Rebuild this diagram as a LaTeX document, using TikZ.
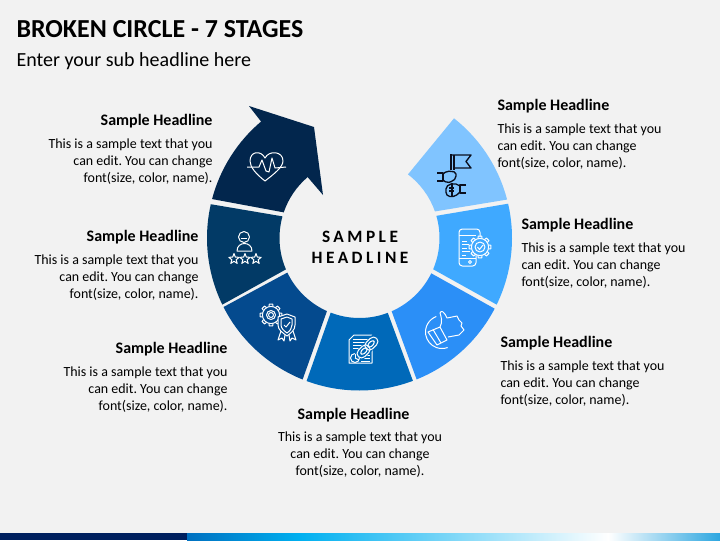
\documentclass[tikz,border=0pt]{standalone}
\usepackage{fontspec}
\usetikzlibrary{calc}
\setmainfont{Carlito}
\newfontfamily\spacedfont[LetterSpace=20]{Carlito}
\frenchspacing
\definecolor{pagegrey}{HTML}{F2F2F2}
\definecolor{stageone}{HTML}{80C4FF}
\definecolor{stagetwo}{HTML}{3FA9FF}
\definecolor{stagethree}{HTML}{2B8FF7}
\definecolor{stagefour}{HTML}{0069B9}
\definecolor{stagefive}{HTML}{044A8E}
\definecolor{stagesix}{HTML}{023A66}
\definecolor{stageseven}{HTML}{02264D}
\definecolor{bandnavy}{HTML}{00205F}
\definecolor{flagblack}{HTML}{0A0F1E}
\definecolor{bandleft}{HTML}{0070C0}
\definecolor{bandmid}{HTML}{00B0F0}
\definecolor{bandright}{HTML}{2CA6E0}
\pgfdeclarehorizontalshading{bandshade}{100bp}{color(0bp)=(bandleft);color(25bp)=(bandleft);color(35.6bp)=(bandmid);color(64.5bp)=(white);color(75bp)=(bandright);color(100bp)=(bandright)}
\tikzset{every picture/.style={line width=0.75pt}}
\tikzset{
	headline/.style={inner sep=0pt,font=\fontsize{12}{14}\selectfont\bfseries},
	bodytext/.style={inner sep=0pt,font=\fontsize{10.47}{12.75}\selectfont},
	iconline/.style={draw=white,line join=round,fill=none},
	flagline/.style={draw=flagblack,line width=1pt,line join=round,fill=none}
}
% ring piece: colour, outer start, outer end, inner start, inner end
\newcommand{\stagepiece}[5]{
	\fill [#1] ($(359.5,238)+(#2:152.5)$) arc [start angle=#2,end angle=#3,radius=152.5] -- ($(359.5,238)+(#4:80)$) arc [start angle=#4,end angle=#5,radius=80] -- cycle;
}
% gear outline: x, y, radius
\newcommand{\gearicon}[3]{
	\draw [iconline] (#1,#2) circle [radius=#3*0.78];
	\foreach \a in {0,45,...,315} {
		\draw [iconline] ($(#1,#2)+(\a-14:#3*0.78)$) -- ($(#1,#2)+(\a-9:#3)$) -- ($(#1,#2)+(\a+9:#3)$) -- ($(#1,#2)+(\a+14:#3*0.78)$);
	}
}

\begin{document}
\begin{tikzpicture}[x=0.75pt,y=0.75pt,yscale=-1,xscale=1]
		\useasboundingbox (0,0) rectangle (720,540);
		\fill [pagegrey] (0,0) rectangle (720,540);
		
		%Bottom band
		\fill [bandnavy] (0,533) rectangle (187,540);
		\shade [shading=bandshade] (187,533) rectangle (720,540);
		
		%Ring pieces
		\stagepiece{stageone}{-51.7}{-14.6}{-19.4}{-52.7}
		\stagepiece{stagetwo}{-13}{25.9}{23}{-16.1}
		\stagepiece{stagethree}{27.6}{68}{66.3}{26.2}
		\stagepiece{stagefour}{69.5}{110.3}{111.1}{69.3}
		\stagepiece{stagefive}{111.9}{153.1}{154.4}{114}
		\stagepiece{stagesix}{154.1}{192.8}{195.7}{156.9}
		%Arrow piece
		\fill [stageseven] ($(359.5,238)+(194.8:152.5)$) arc [start angle=194.8,end angle=229.8,radius=152.5] -- (249,106) -- (314,127) -- (323,195) -- ($(359.5,238)+(229.6:80)$) arc [start angle=229.6,end angle=198.7,radius=80] -- cycle;
		
		%Heart icon
		\draw [iconline] (265,181) .. controls (256,174) and (250,167) .. (250,161) .. controls (250,151) and (261,150) .. (265,158) .. controls (269,150) and (283,151) .. (283,161) .. controls (283,167) and (274,174) .. (265,181) -- cycle;
		\draw [iconline] (247,167) -- (259,167) -- (262,160) -- (266,171) -- (269,172) -- (272,158) -- (275,168) -- (286,167);
		
		%Person icon
		\draw [iconline] (244,237) circle [radius=5.5];
		\draw [iconline] (237,251) .. controls (237,241) and (252,241) .. (252,251) -- cycle;
		\draw [iconline] (241,238) -- (247,238);
		\foreach \sx in {234,245,256} {
			\begin{scope}[shift={(\sx,259)}]
				\draw [iconline] (-90:5.5) -- (-54:2.3) -- (-18:5.5) -- (18:2.3) -- (54:5.5) -- (90:2.3) -- (126:5.5) -- (162:2.3) -- (198:5.5) -- (234:2.3) -- cycle;
			\end{scope}
		}
		
		%Gear and shield icon
		\gearicon{271}{315}{11}
		\draw [iconline] (271,315) circle [radius=4.5];
		\draw [iconline] (271,315) circle [radius=2.5];
		\fill [stagefive] (287,314) -- (295,317) -- (295,325) .. controls (295,330) and (291,333) .. (287,336) .. controls (283,333) and (278,330) .. (278,325) -- (278,317) -- cycle;
		\draw [iconline] (287,314) -- (295,317) -- (295,325) .. controls (295,330) and (291,333) .. (287,336) .. controls (283,333) and (278,330) .. (278,325) -- (278,317) -- cycle;
		\draw [iconline] (287,317) -- (292,319) -- (292,325) .. controls (292,328) and (290,331) .. (287,333) .. controls (284,331) and (281,328) .. (281,325) -- (281,319) -- cycle;
		\draw [iconline] (284,325) -- (286,327) -- (290,322);
		\draw [iconline] (281,331) -- (278,340) -- (282,338) -- (284,341) -- (285,335);
		\draw [iconline] (293,331) -- (296,340) -- (292,338) -- (290,341) -- (289,335);
		
		%Document and link icon
		\draw [iconline] (354,335) -- (372,335) -- (372,363) -- (349,363) -- (349,340) -- cycle;
		\foreach \ly in {339,342,345,348} {
			\draw [iconline,line width=0.6pt] (353,\ly) -- (368,\ly);
		}
		\foreach \ly in {352,355,358,361} {
			\draw [iconline,line width=0.6pt] (361,\ly) -- (370,\ly);
		}
		\draw [iconline] (355,358) circle [radius=4.5];
		\draw [iconline] (355,358) -- (355,353.5);
		\draw [iconline] (355,358) -- (359,360);
		\begin{scope}[shift={(367.5,347.5)},rotate=-45]
			\fill [stagefour] (-13,-5.5) rectangle (13,5.5);
			\draw [iconline,rounded corners=3.5pt] (-13,-4.5) rectangle (2,4.5);
			\draw [iconline,rounded corners=3.5pt] (-2,-4.5) rectangle (13,4.5);
			\draw [iconline,rounded corners=2pt] (-9,-2) rectangle (-1,2);
			\draw [iconline,rounded corners=2pt] (1,-2) rectangle (9,2);
		\end{scope}
		
		%Thumb icon
		\draw [iconline] ($(442,332)+(-110:16.5)$) arc [start angle=-110,end angle=-190,radius=16.5] -- ($(442,332)+(-190:16.5)$) arc [start angle=170,end angle=70,radius=16.5];
		\draw [iconline] (428,332) -- (440,327) -- (447,340) -- (437,345) -- cycle;
		\draw [iconline] (433,329.5) -- (441,343);
		\draw [iconline] (440,327) .. controls (443,322) and (441,316) .. (440,313) .. controls (441,310) and (444,311) .. (447,318) -- (457,316) -- (459,320) -- (462,323) -- (461,326) -- (464,330) -- (459,335) -- (448,337);
		
		%Phone and gear icon
		\draw [iconline,rounded corners=2.5pt] (476,250) -- (476,266) -- (459,266) -- (459,229) -- (480,229) -- (480,237);
		\draw [iconline] (459,258) -- (476,258);
		\draw [iconline] (459,235) -- (476,235);
		\draw [iconline] (470,262) circle [radius=1.5];
		\foreach \ly/\lx in {241/467,244/469,248/467,251/470,255/466} {
			\draw [iconline,line width=0.6pt] (462,\ly) -- (\lx,\ly);
		}
		\fill [stagetwo] (480,247) circle [radius=9];
		\gearicon{480}{247}{11}
		\draw [iconline] (480,247) circle [radius=5];
		\draw [iconline] (477.5,247) -- (479.5,249.5) -- (483,245);
		
		%Flag and hands icon
		\draw [flagline] (451,154) -- (451,170);
		\draw [flagline] (454,155) -- (454,170);
		\draw [flagline] (451,155) -- (471,155) -- (466,161.5) -- (471,168) -- (454,168);
		\draw [flagline] (437,173) -- (443,173) -- (443,181) -- (437,181);
		\draw [flagline,rounded corners=1.5pt] (443,174) -- (447,171) -- (456,172) -- (456,178) -- (453,181) -- (447,183) -- (443,180);
		\draw [flagline] (466,185) -- (460,185) -- (460,193) -- (466,193);
		\draw [flagline] (460,186) -- (456,184) -- (451,184) .. controls (445,185) and (445,192) .. (447,195) .. controls (450,198) and (456,197) .. (460,192);
		\draw [flagline] (449,188) -- (454,188);
		\draw [flagline] (449,191) -- (454,191);
		\draw [flagline] (452,183) -- (452,197);
		
		% Text Node
		\node (titletext) [anchor=base west,inner sep=0pt,font=\fontsize{19.46}{24}\selectfont\bfseries] at (16,37) {BROKEN CIRCLE - 7 STAGES};
		% Text Node
		\node (subtext) [anchor=base west,inner sep=0pt,font=\fontsize{15}{18}\selectfont] at (16,66) {Enter your sub headline here};
		% Text Node
		\node (centertext) [anchor=center,inner sep=0pt,align=center,font=\fontsize{13}{15.75}\selectfont\bfseries\spacedfont] at (360,247.5) {SAMPLE\\HEADLINE};
		
		% Text Node
		\node (headsix) [headline,anchor=base east] at (213,125) {Sample Headline};
		\node (bodysix) [bodytext,anchor=base east,align=right] at (213,182.5) {This is a sample text that you\\can edit. You can change\\font(size, color, name).};
		% Text Node
		\node (headfive) [headline,anchor=base east] at (199,241) {Sample Headline};
		\node (bodyfive) [bodytext,anchor=base east,align=right] at (199,298.5) {This is a sample text that you\\can edit. You can change\\font(size, color, name).};
		% Text Node
		\node (headfour) [headline,anchor=base east] at (228,353) {Sample Headline};
		\node (bodyfour) [bodytext,anchor=base east,align=right] at (228,410.5) {This is a sample text that you\\can edit. You can change\\font(size, color, name).};
		% Text Node
		\node (headthree) [headline,anchor=base] at (353.5,419) {Sample Headline};
		\node (bodythree) [bodytext,anchor=base,align=center] at (360,475.5) {This is a sample text that you\\can edit. You can change\\font(size, color, name).};
		% Text Node
		\node (headtwo) [headline,anchor=base west] at (500,347) {Sample Headline};
		\node (bodytwo) [bodytext,anchor=base west,align=left] at (500,404.5) {This is a sample text that you\\can edit. You can change\\font(size, color, name).};
		% Text Node
		\node (headone) [headline,anchor=base west] at (521,229) {Sample Headline};
		\node (bodyone) [bodytext,anchor=base west,align=left] at (521,286.5) {This is a sample text that you\\can edit. You can change\\font(size, color, name).};
		% Text Node
		\node (headzero) [headline,anchor=base west] at (497,110) {Sample Headline};
		\node (bodyzero) [bodytext,anchor=base west,align=left] at (497,167.5) {This is a sample text that you\\can edit. You can change\\font(size, color, name).};
		
	\end{tikzpicture}
\end{document}
